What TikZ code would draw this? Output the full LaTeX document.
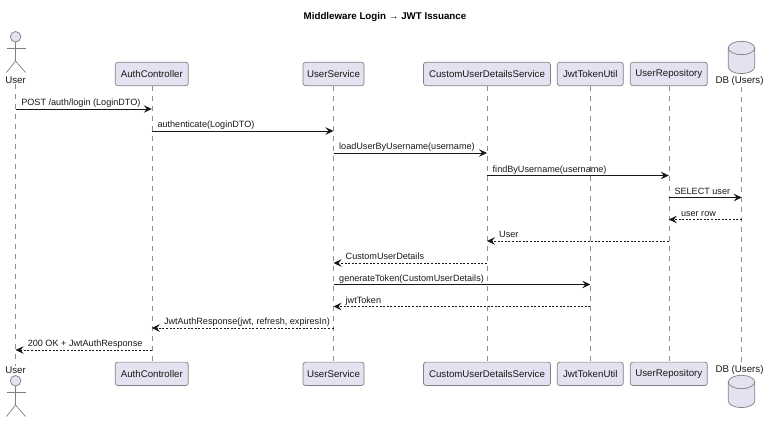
\documentclass[tikz,border=0pt]{standalone}
\usepackage{fontspec}
\setmainfont{Liberation Sans}
\usetikzlibrary{arrows.meta}
\definecolor{partfill}{HTML}{E2E2F0}
\definecolor{partline}{HTML}{7F7F85}
\definecolor{lifegray}{HTML}{8E8E92}
\definecolor{msgline}{HTML}{181818}
\tikzset{
  part/.style={draw=partline, fill=partfill, line width=0.7pt, rounded corners=2.5pt, minimum height=23.4pt, inner sep=0pt, text=msgline, font=\fontsize{9.7}{11}\selectfont},
  actorlabel/.style={inner sep=0pt, text=msgline, font=\fontsize{9.7}{11}\selectfont},
  figure/.style={draw=partline, fill=partfill, line width=0.7pt},
  lifeline/.style={draw=lifegray, line width=0.55pt, dash pattern=on 5pt off 5pt},
  msg/.style={msgline, line width=0.7pt, -{Stealth[length=8pt, width=7.5pt, inset=3pt]}},
  reply/.style={msg, dash pattern=on 2pt off 1.6pt},
  msglabel/.style={anchor=base west, inner sep=0pt, text=msgline, font=\fontsize{9.1}{11}\selectfont}
}
\begin{document}
\begin{tikzpicture}[x=1pt, y=-1pt]
    \useasboundingbox (0,0) rectangle (767,420);
    \node[inner sep=0pt, font=\bfseries\fontsize{9.75}{11}\selectfont] (title) at (385,17.5) {Middleware Login → JWT Issuance};

    % Participants, top row
    \node[actorlabel] (userT) at (15.6,80.6) {User};
    \node[part, minimum width=73pt] (authT) at (151.8,74) {AuthController};
    \node[part, minimum width=61pt] (serviceT) at (333.5,74) {UserService};
    \node[part, minimum width=127pt] (detailsT) at (487,74) {CustomUserDetailsService};
    \node[part, minimum width=66pt] (jwtT) at (590.3,74) {JwtTokenUtil};
    \node[part, minimum width=77pt] (repoT) at (668.8,74) {UserRepository};
    \node[actorlabel] (dbT) at (739.5,80.6) {DB (Users)};

    % Participants, bottom row
    \node[actorlabel] (userB) at (15.6,370) {User};
    \node[part, minimum width=73pt] (authB) at (151.8,373.8) {AuthController};
    \node[part, minimum width=61pt] (serviceB) at (333.5,373.8) {UserService};
    \node[part, minimum width=127pt] (detailsB) at (487,373.8) {CustomUserDetailsService};
    \node[part, minimum width=66pt] (jwtB) at (590.3,373.8) {JwtTokenUtil};
    \node[part, minimum width=77pt] (repoB) at (668.8,373.8) {UserRepository};
    \node[actorlabel] (dbB) at (739.5,370) {DB (Users)};

    % Stick figures
    \foreach \yy in {31.5, 375.5} {
      \draw[figure] (15.6,\yy+5.3) circle (5.3pt);
      \draw[figure] (15.6,\yy+10.6) -- (15.6,\yy+29.5);
      \draw[figure] (6.5,\yy+16.8) -- (25.5,\yy+16.8);
      \draw[figure, fill=none] (6.5,\yy+41) -- (15.6,\yy+29.5) -- (25.5,\yy+41);
    }

    % Database cylinders
    \foreach \yy in {41.3, 375.3} {
      \draw[figure] (728.3,\yy+6.7) arc[start angle=180, end angle=0, x radius=13.2pt, y radius=6.7pt]
        -- (754.7,\yy+25.6) arc[start angle=0, end angle=-180, x radius=13.2pt, y radius=6.7pt] -- cycle;
      \draw[figure, fill=none] (728.3,\yy+6.7) arc[start angle=-180, end angle=0, x radius=13.2pt, y radius=6.7pt];
    }

    % Lifelines
    \coordinate (dbTop) at (741.7,87);
    \coordinate (dbEnd) at (741.7,363);
    \draw[lifeline] (userT.south) -- (userB.north);
    \draw[lifeline] (authT.south) -- (authB.north);
    \draw[lifeline] (serviceT.south) -- (serviceB.north);
    \draw[lifeline] (detailsT.south) -- (detailsB.north);
    \draw[lifeline] (jwtT.south) -- (jwtB.north);
    \draw[lifeline] (repoT.south) -- (repoB.north);
    \draw[lifeline] (dbTop) -- (dbEnd);

    % Calls
    \foreach \from/\to/\yy/\txt in {
      userT/authT/109/{POST /auth/login (LoginDTO)},
      authT/serviceT/131/{authenticate(LoginDTO)},
      serviceT/detailsT/153/{loadUserByUsername(username)},
      detailsT/repoT/175.5/{findByUsername(username)},
      repoT/dbTop/197.5/{SELECT user},
      serviceT/jwtT/284.5/{generateToken(CustomUserDetails)}} {
      \draw[msg] (\from |- 0,\yy) -- (\to |- 0,\yy);
      \node[msglabel] at ([xshift=5.5pt]\from |- 0,\yy-3.5) {\txt};
    }

    % Replies
    \foreach \from/\to/\yy/\txt in {
      dbTop/repoT/219.5/{user row},
      repoT/detailsT/241/{User},
      detailsT/serviceT/263/{CustomUserDetails},
      jwtT/serviceT/306.5/{jwtToken},
      serviceT/authT/328/{JwtAuthResponse(jwt, refresh, expiresIn)},
      authT/userT/350/{200 OK + JwtAuthResponse}} {
      \draw[reply] (\from |- 0,\yy) -- (\to |- 0,\yy);
      \node[msglabel] at ([xshift=12pt]\to |- 0,\yy-3.5) {\txt};
    }
\end{tikzpicture}
\end{document}
